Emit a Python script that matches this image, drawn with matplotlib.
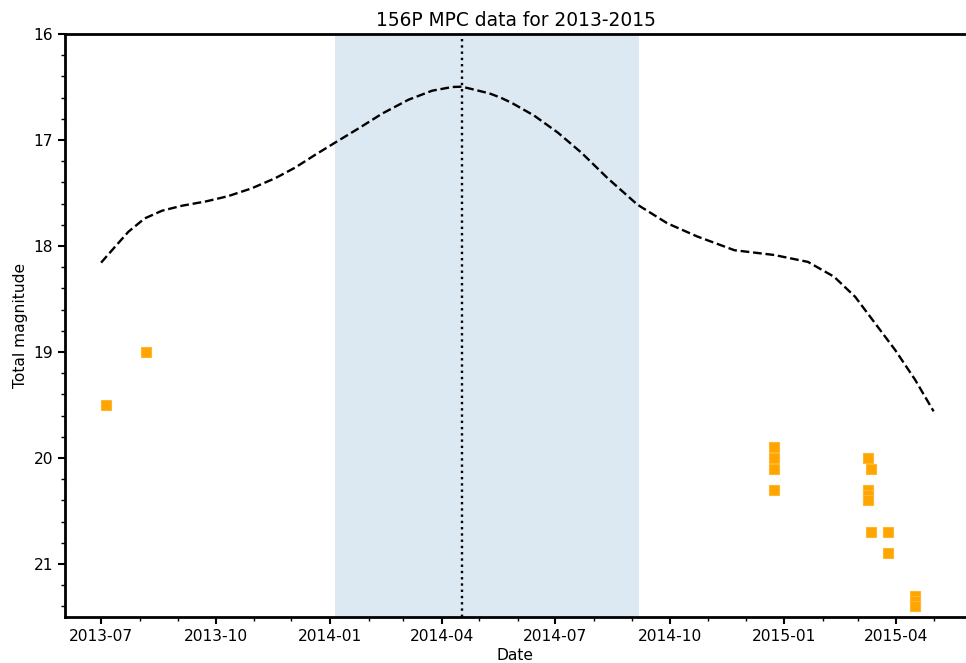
import matplotlib
matplotlib.use("Agg")
import matplotlib.pyplot as plt
import matplotlib.dates as mdates
from matplotlib.ticker import MultipleLocator
import datetime as dt

# Predicted magnitude curve
curve_dates = ["2013-07-01", "2013-07-12", "2013-07-23", "2013-08-05", "2013-08-19",
               "2013-09-04", "2013-09-23", "2013-10-11", "2013-10-30", "2013-11-18",
               "2013-12-04", "2013-12-20", "2014-01-05", "2014-01-24", "2014-02-12",
               "2014-03-05", "2014-03-24", "2014-04-09", "2014-04-17", "2014-05-09",
               "2014-05-18", "2014-05-27", "2014-06-14", "2014-07-03", "2014-07-22",
               "2014-08-12", "2014-09-05", "2014-09-29", "2014-10-23", "2014-11-22",
               "2014-12-24", "2015-01-20", "2015-02-10", "2015-02-27", "2015-03-15",
               "2015-03-31", "2015-04-16", "2015-05-01"]
curve_mag = [18.157, 18.01, 17.865, 17.74, 17.667,
             17.62, 17.58, 17.53, 17.456, 17.36,
             17.26, 17.14, 17.025, 16.89, 16.75,
             16.62, 16.535, 16.50, 16.497, 16.56,
             16.60, 16.65, 16.77, 16.93, 17.12,
             17.36, 17.61, 17.786, 17.91, 18.04,
             18.085, 18.15, 18.29, 18.48, 18.73,
             18.98, 19.26, 19.56]

# MPC observations
obs_dates = ["2013-07-05", "2013-08-06",
             "2014-12-24", "2014-12-24", "2014-12-24", "2014-12-24",
             "2015-03-09", "2015-03-12", "2015-03-09", "2015-03-09", "2015-03-09",
             "2015-03-12", "2015-03-25", "2015-03-25",
             "2015-04-16", "2015-04-16", "2015-04-16"]
obs_mag = [19.5, 19.0,
           19.9, 20.0, 20.1, 20.3,
           20.0, 20.1, 20.3, 20.35, 20.4,
           20.7, 20.7, 20.9,
           21.3, 21.35, 21.4]

shade_start = "2014-01-05"
shade_end = "2014-09-06"
perihelion = "2014-04-17"

title = "156P MPC data for 2013-2015"
xlabel = "Date"
ylabel = "Total magnitude"

to_d = lambda s: dt.datetime.strptime(s, "%Y-%m-%d")

fig = plt.figure(figsize=(9.66, 6.63), dpi=100)
ax = fig.add_axes([65/966, 1-617/663, 1-65/966, (617-34)/663])

ax.axvspan(to_d(shade_start), to_d(shade_end), color="#dce8f2", lw=0, zorder=0)
ax.axvline(to_d(perihelion), color="black", ls=":", lw=1.7, zorder=1)
ax.plot([to_d(d) for d in curve_dates], curve_mag, color="black", ls="--", lw=1.7,
        zorder=2, solid_joinstyle="round")
ax.plot([to_d(d) for d in obs_dates], obs_mag, ls="none", marker="s", ms=7.5,
        color="orange", mec="#ffb733", mew=0.8, zorder=3)

ax.set_xlim(to_d("2013-06-02"), to_d("2015-05-27"))
ax.set_ylim(21.5, 16)

ax.xaxis.set_major_locator(mdates.MonthLocator(bymonth=[1, 4, 7, 10]))
ax.xaxis.set_minor_locator(mdates.MonthLocator())
ax.xaxis.set_major_formatter(mdates.DateFormatter("%Y-%m"))
ax.yaxis.set_major_locator(MultipleLocator(1))
ax.yaxis.set_minor_locator(MultipleLocator(0.2))

for s in ["top", "left", "bottom"]:
    ax.spines[s].set_linewidth(2)
ax.spines["right"].set_visible(False)
ax.tick_params(which="major", length=5, width=1.5, labelsize=11.2)
ax.tick_params(which="minor", length=3, width=1)

ax.set_title(title, fontsize=13.4, pad=6)
ax.set_xlabel(xlabel, fontsize=11.2, labelpad=3)
ax.set_ylabel(ylabel, fontsize=11.2, labelpad=4)

fig.savefig("out.png", dpi=100)
